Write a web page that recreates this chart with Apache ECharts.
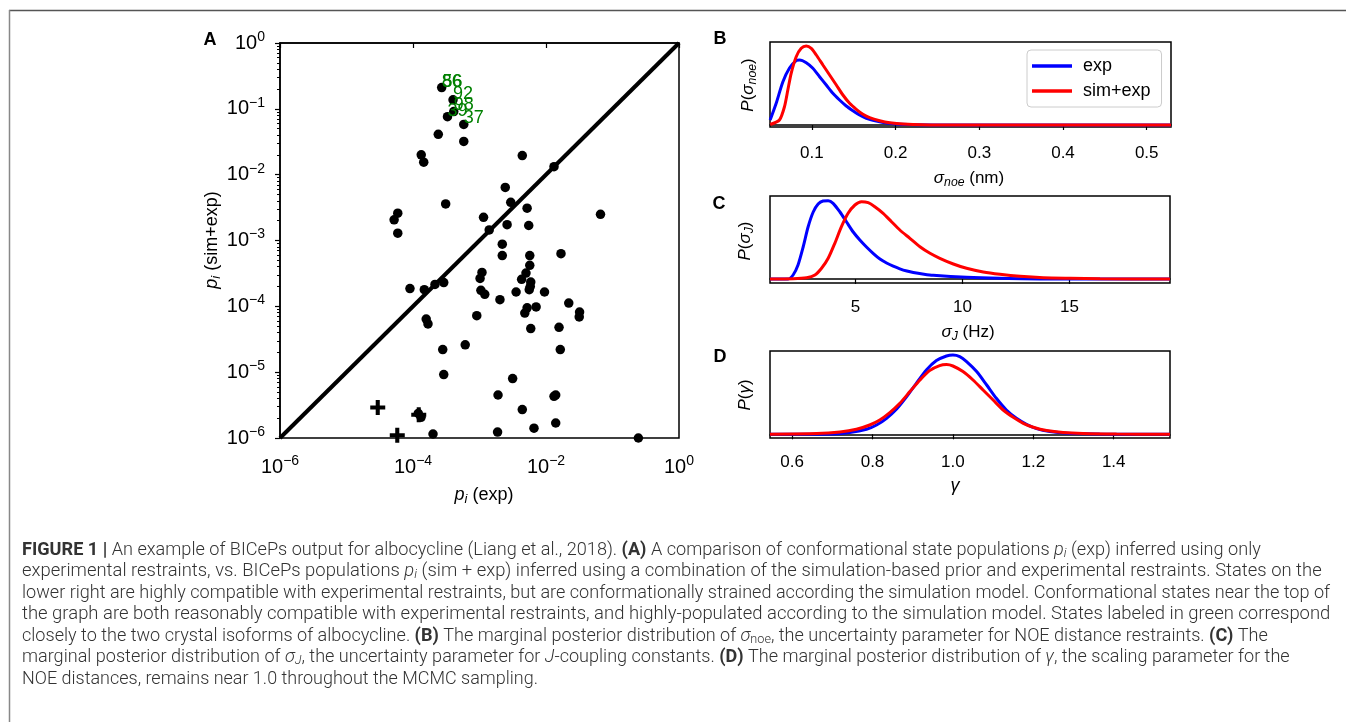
<!DOCTYPE html>
<html><head><meta charset="utf-8">
<script src="https://cdn.jsdelivr.net/npm/echarts@6/dist/echarts.min.js"></script>
<style>html,body{margin:0;padding:0;background:#fff;}#c{width:1346px;height:722px;}</style>
</head><body><div id="c"></div>
<script>
// ---------- Panel A data: [p_i(exp), p_i(sim+exp)] ----------
const dotPoints = [
 [2.7e-4,0.21],[4.0e-4,0.137],[4.1e-4,0.091],[3.3e-4,0.076],[5.8e-4,0.058],[2.4e-4,0.041],[5.8e-4,0.032],
 [1.33e-4,0.020],[1.45e-4,0.0155],[4.4e-3,0.0195],[0.0132,0.0132],[2.44e-3,6.4e-3],[2.95e-3,3.8e-3],
 [5.2e-3,3.1e-3],[3.1e-4,3.6e-3],[0.066,2.5e-3],[5.9e-5,2.6e-3],[1.15e-3,2.25e-3],[5.2e-5,2.06e-3],
 [5.9e-5,1.29e-3],[2.6e-3,1.74e-3],[5.5e-3,1.69e-3],[1.4e-3,1.45e-3],[2.2e-3,8.8e-4],[2.2e-3,5.9e-4],
 [0.0168,6.3e-4],[5.7e-3,5.9e-4],[5.7e-3,4.2e-4],[1.09e-3,3.27e-4],[1.02e-3,2.65e-4],[5.0e-3,3.2e-4],
 [4.3e-3,2.57e-4],[5.9e-3,2.34e-4],[5.8e-3,2.0e-4],[5.6e-3,1.79e-4],[9.0e-5,1.86e-4],[1.48e-4,1.79e-4],
 [2.14e-4,2.15e-4],[2.9e-4,2.3e-4],[1.05e-3,1.75e-4],[1.2e-3,1.52e-4],[2.03e-3,1.26e-4],[3.55e-3,1.65e-4],
 [9.5e-3,1.65e-4],[0.022,1.12e-4],[5.2e-3,9.5e-5],[7.1e-3,9.8e-5],[4.8e-3,7.9e-5],[0.032,8.2e-5],
 [0.0316,6.9e-5],[9.1e-4,7.2e-5],[1.58e-4,6.4e-5],[1.68e-4,5.4e-5],[5.9e-3,4.6e-5],[0.0157,4.8e-5],
 [0.0164,2.2e-5],[6.1e-4,2.6e-5],[2.8e-4,2.2e-5],[2.9e-4,9.2e-6],[3.15e-3,8.0e-6],[1.9e-3,4.5e-6],
 [0.0140,4.5e-6],[0.0132,4.3e-6],[4.4e-3,2.7e-6],[0.014,1.69e-6],[6.6e-3,1.41e-6],[1.87e-3,1.23e-6],
 [2.0e-4,1.15e-6],[1.2e-4,2.36e-6],[1.32e-4,2.06e-6],[0.245,1.0e-6]
];
const crossPoints = [[2.95e-5,2.9e-6],[5.8e-5,1.1e-6],[1.22e-4,2.25e-6]];
const labelPoints = [[2.7e-4,0.21],[2.78e-4,0.21],[4.0e-4,0.137],[4.1e-4,0.091],[3.3e-4,0.076],[5.8e-4,0.058]];
const labelNames = ['86','56','92','98','39','37'];
const diagonal = [[1e-6,1e-6],[1,1]];

// ---------- Panel B: P(sigma_noe) ----------
const bExp = [[0.0502,5],[0.0574,21.7],[0.0653,43],[0.0733,57],[0.0813,64.3],[0.0853,65],[0.0933,62.3],
 [0.1012,56.7],[0.1092,48.3],[0.1172,40],[0.1251,31.7],[0.1331,25],[0.1411,19],[0.149,14.3],[0.157,10],
 [0.165,6.7],[0.177,4],[0.189,2],[0.205,0.7],[0.245,0],[0.529,0]];
const bSim = [[0.0502,0.5],[0.0613,5],[0.0673,18.3],[0.0713,35],[0.0753,51.7],[0.0813,68.3],[0.0873,76.7],
 [0.0933,79],[0.0993,76.7],[0.1053,70],[0.1132,60],[0.1212,50],[0.1292,40],[0.1371,30],[0.1451,21.7],
 [0.1531,15.7],[0.161,10.7],[0.169,7.3],[0.181,4.3],[0.193,2.3],[0.209,1],[0.25,0],[0.529,0]];
const bTicks = [0.1,0.2,0.3,0.4,0.5];

// ---------- Panel C: P(sigma_J) ----------
const cExp = [[1.0,0],[1.846,0],[2.08,4],[2.31,14],[2.55,32],[2.78,52],[3.02,67],[3.25,75],[3.48,78],
 [3.72,78.3],[3.95,75.7],[4.27,67],[4.58,57],[4.89,47],[5.20,39],[5.51,32],[5.82,25.7],[6.14,20],
 [6.45,16],[6.76,12.8],[7.07,10.2],[7.4,8],[7.70,6.5],[8.2,4.8],[8.63,3.7],[10.19,1.7],[11.75,0.7],[14,0],[19.7,0]];
const cSim = [[1.0,0],[2.08,0.3],[2.71,1.3],[3.10,4],[3.41,10.7],[3.72,20.7],[4.03,35.7],[4.34,52.3],
 [4.65,65.7],[4.97,74],[5.28,77.3],[5.59,76.3],[5.90,72.3],[6.29,65.7],[6.68,57.3],[7.07,49],[7.54,40.7],
 [8.01,32.3],[8.48,25.7],[8.94,20.7],[9.57,15],[10.19,10.7],[10.97,7],[11.75,4.7],[12.69,2.7],[13.78,1.3],
 [15.03,0.7],[16.43,0.2],[19.7,0]];
const cTicks = [5,10,15];

// ---------- Panel D: P(gamma) ----------
const dExp = [[0.545,0],[0.702,0.3],[0.7435,1.7],[0.785,5],[0.810,9.3],[0.835,16],[0.860,25.3],[0.885,37.7],
 [0.909,51],[0.934,64.3],[0.959,73.7],[0.984,78.3],[1.0,79.3],[1.017,77.7],[1.034,72.7],[1.059,62.7],
 [1.084,49.3],[1.108,36],[1.133,24.3],[1.158,16],[1.183,10],[1.208,5.7],[1.241,2.7],[1.283,1],[1.365,0.3],[1.45,0],[1.54,0]];
const dSim = [[0.545,0],[0.661,0.7],[0.719,2.3],[0.760,5],[0.793,9.3],[0.818,14.3],[0.843,21.7],[0.868,31],
 [0.893,42.7],[0.918,54.3],[0.942,63.7],[0.967,68.7],[0.984,69.7],[1.0,68.3],[1.025,62.7],[1.050,54.3],
 [1.075,44.3],[1.100,34.3],[1.125,24.3],[1.150,17],[1.175,11],[1.2,7],[1.233,3.7],[1.274,1.7],[1.324,0.7],[1.407,0.2],[1.54,0]];
const dTicks = [0.6,0.8,1.0,1.2,1.4];

const captionLines = [
 '{b|FIGURE 1 |} An example of BICePs output for albocycline {g|(Liang et al., 2018)}. {b|(A)} A comparison of conformational state populations {i|p}{si|i} (exp) inferred using only',
 'experimental restraints, vs. BICePs populations {i|p}{si|i} (sim + exp) inferred using a combination of the simulation-based prior and experimental restraints. States on the',
 'lower right are highly compatible with experimental restraints, but are conformationally strained according the simulation model. Conformational states near the top of',
 'the graph are both reasonably compatible with experimental restraints, and highly-populated according to the simulation model. States labeled in green correspond',
 'closely to the two crystal isoforms of albocycline. {b|(B)} The marginal posterior distribution of {i|σ}{s|noe}, the uncertainty parameter for NOE distance restraints. {b|(C)} The',
 'marginal posterior distribution of {i|σ}{si|J}, the uncertainty parameter for {i|J}-coupling constants. {b|(D)} The marginal posterior distribution of {i|γ}, the scaling parameter for the',
 'NOE distances, remains near 1.0 throughout the MCMC sampling.'
];
const captionStretch = [1.003, 1.02, 1, 1.022, 1, 1, 0.995];

// ---------- build ----------
const FF = '"Liberation Sans", Arial, Helvetica, sans-serif';
const CF = 'Roboto, "Liberation Sans", sans-serif';
const CW = 300;
const ctx = document.createElement('canvas').getContext('2d');
ctx.font = CW + ' 16px ' + CF;
const capSize = 16 * 1309 / ctx.measureText(captionLines[2]).width;

const minorExps = [];
for (let n = -6; n < 0; n++) for (let k = 2; k <= 9; k++) minorExps.push(n + Math.log10(k));

function pow10Label(v) {
  const e = Math.round(Math.log10(v));
  return '10{sup|' + (e < 0 ? '\u2212' + (-e) : e) + '}';
}
const supRich = { sup: { fontSize: 14, fontFamily: FF, color: '#000', padding: [0, 0, 12, 0] } };

const chart = echarts.init(document.getElementById('c'));
const blue = '#0000ff', red = '#ff0000';
function lineSeries(name, data, xi, yi, color) {
  return { type: 'line', name, data, xAxisIndex: xi, yAxisIndex: yi, showSymbol: false, symbol: 'none',
    smooth: 0.25, lineStyle: { color, width: 3 }, itemStyle: { color }, z: color === red ? 4 : 3, animation: false };
}
function gridCfg(left, top, width, height) {
  return { left, top, width, height, show: true, borderColor: '#000', borderWidth: 1.5,
    backgroundColor: 'transparent', containLabel: false, outerBoundsMode: 'none' };
}
function smallX(gi, min, max, ticks, fmt, margin) {
  return { type: 'value', gridIndex: gi, min, max,
    axisLine: { show: true, lineStyle: { color: '#000', width: 1.5 } },
    axisTick: { show: true, customValues: ticks, length: 5, lineStyle: { color: '#000', width: 1.2 } },
    axisLabel: { customValues: ticks, formatter: fmt, fontSize: 17, fontFamily: FF, color: '#000', margin },
    splitLine: { show: false } };
}
function hiddenY(gi, min, max) {
  return { type: 'value', gridIndex: gi, min, max, show: false, splitLine: { show: false } };
}
function txt(x, y, text, opts) {
  return { type: 'text', x, y, silent: true, style: Object.assign({ text, fill: '#000',
    font: '18px ' + FF, align: 'center', verticalAlign: 'middle' }, opts || {}) };
}
const mathRich = (fs) => ({
  i: { fontStyle: 'italic', fontSize: fs, fontFamily: FF, color: '#000' },
  n: { fontSize: fs, fontFamily: FF, color: '#000' },
  si: { fontStyle: 'italic', fontSize: fs * 0.72, fontFamily: FF, color: '#000', padding: [9, 0, 0, 0] },
  s: { fontStyle: 'italic', fontSize: fs * 0.72, fontFamily: FF, color: '#000', padding: [9, 0, 0, 0] }
});

const capRich = {
  b: { fontWeight: 'bold', fontSize: capSize, fontFamily: CF, color: '#222' },
  g: { fontWeight: CW, fontSize: capSize, fontFamily: CF, color: '#666' },
  i: { fontWeight: CW, fontStyle: 'italic', fontSize: capSize, fontFamily: CF, color: '#333' },
  si: { fontWeight: CW, fontStyle: 'italic', fontSize: capSize * 0.7, fontFamily: CF, color: '#333', padding: [7, 0, 0, 0] },
  s: { fontWeight: CW, fontSize: capSize * 0.7, fontFamily: CF, color: '#333', padding: [7, 0, 0, 0] }
};

const graphics = [
  { type: 'line', silent: true, shape: { x1: 9, y1: 10.5, x2: 1346, y2: 10.5 }, style: { stroke: '#555', lineWidth: 1.5 } },
  { type: 'line', silent: true, shape: { x1: 9.5, y1: 10, x2: 9.5, y2: 722 }, style: { stroke: '#888', lineWidth: 1.5 } },
  txt(210, 40, 'A', { font: 'bold 18px ' + FF }),
  txt(720, 39, 'B', { font: 'bold 18px ' + FF }),
  txt(719, 204, 'C', { font: 'bold 18px ' + FF }),
  txt(720, 357, 'D', { font: 'bold 18px ' + FF }),
  txt(484, 495, '{i|p}{si|i}{n| (exp)}', { rich: mathRich(18) }),
  Object.assign(txt(0, 0, '{i|p}{si|i}{n| (sim+exp)}', { rich: mathRich(18) }), { x: 212, y: 240, rotation: Math.PI / 2 }),
  Object.assign(txt(0, 0, '{i|P}{n|(}{i|σ}{s|noe}{n|)}', { rich: mathRich(17) }), { x: 748, y: 85, rotation: Math.PI / 2 }),
  Object.assign(txt(0, 0, '{i|P}{n|(}{i|σ}{si|J}{n|)}', { rich: mathRich(17) }), { x: 745, y: 241, rotation: Math.PI / 2 }),
  Object.assign(txt(0, 0, '{i|P}{n|(}{i|γ}{n|)}', { rich: mathRich(17) }), { x: 745, y: 395, rotation: Math.PI / 2 }),
  txt(969, 178, '{i|σ}{s|noe}{n| (nm)}', { rich: mathRich(17) }),
  txt(968, 332, '{i|σ}{si|J}{n| (Hz)}', { rich: mathRich(17) }),
  txt(955, 486, '{i|γ}', { rich: mathRich(18) })
];
captionLines.forEach((t, k) => {
  graphics.push({ type: 'text', x: 22, y: 550 + k * 21.5, scaleX: captionStretch[k], silent: true,
    style: { text: t, rich: capRich, fontSize: capSize, fontFamily: CF, fontWeight: CW, fill: '#333', align: 'left', verticalAlign: 'middle' } });
});

const plusPath = 'path://M-1.9,-7L1.9,-7L1.9,-1.9L7,-1.9L7,1.9L1.9,1.9L1.9,7L-1.9,7L-1.9,1.9L-7,1.9L-7,-1.9L-1.9,-1.9Z';

chart.setOption({
  animation: false,
  backgroundColor: '#fff',
  grid: [gridCfg(280, 43, 399, 395), gridCfg(770, 42, 401, 85), gridCfg(770, 196, 400, 87), gridCfg(770, 351, 400, 87)],
  xAxis: [
    { type: 'log', logBase: 10, gridIndex: 0, min: 1e-6, max: 1, interval: 2,
      axisLine: { show: true, lineStyle: { color: '#000', width: 1.5 } },
      axisTick: { show: true, length: 5, lineStyle: { color: '#000', width: 1.2 } },
      axisLabel: { formatter: pow10Label, rich: supRich, fontSize: 20, fontFamily: FF, color: '#000', margin: 16 },
      splitLine: { show: false }, minorTick: { show: false } },
    smallX(1, 0.05, 0.529, bTicks, v => v.toFixed(1), 18),
    smallX(2, 1.0, 19.7, cTicks, v => String(v), 16),
    smallX(3, 0.545, 1.54, dTicks, v => v.toFixed(1), 16)
  ],
  yAxis: [
    { type: 'log', logBase: 10, gridIndex: 0, min: 1e-6, max: 1, interval: 1, position: 'left',
      axisLine: { show: true, lineStyle: { color: '#000', width: 1.5 } },
      axisTick: { show: true, length: 5, lineStyle: { color: '#000', width: 1.2 } },
      axisLabel: { formatter: pow10Label, rich: supRich, fontSize: 20, fontFamily: FF, color: '#000', margin: 15 },
      splitLine: { show: false } },
    { type: 'value', gridIndex: 0, min: -6, max: 0, position: 'left',
      axisLine: { show: false }, axisLabel: { show: false }, splitLine: { show: false },
      axisTick: { show: true, customValues: minorExps, length: 3, lineStyle: { color: '#000', width: 1 } } },
    hiddenY(1, -2, 83), hiddenY(2, -4, 83), hiddenY(3, -3.7, 83.3)
  ],
  legend: { show: true, left: 1027, top: 50, orient: 'vertical', data: ['exp', 'sim+exp'],
    icon: 'rect', itemWidth: 40, itemHeight: 3.5, itemGap: 7,
    backgroundColor: '#fff', borderColor: '#cccccc', borderWidth: 1, borderRadius: 4, padding: [7, 11, 7, 5],
    textStyle: { fontSize: 18, fontFamily: FF, color: '#000', padding: [0, 0, 0, 6] }, selectedMode: false, z: 10 },
  series: [
    { type: 'line', data: diagonal, xAxisIndex: 0, yAxisIndex: 0, symbol: 'none', lineStyle: { color: '#000', width: 4 }, z: 2 },
    { type: 'scatter', data: dotPoints, xAxisIndex: 0, yAxisIndex: 0, symbol: 'circle', symbolSize: 9.5,
      itemStyle: { color: '#000', opacity: 1 }, z: 3, clip: false },
    { type: 'scatter', data: crossPoints, xAxisIndex: 0, yAxisIndex: 0, symbol: plusPath, symbolSize: 15,
      itemStyle: { color: '#000', opacity: 1 }, z: 3 },
    { type: 'scatter', data: labelPoints.map((p, k) => ({ value: p, name: labelNames[k] })), xAxisIndex: 0, yAxisIndex: 0,
      symbolSize: 0.1, z: 5, itemStyle: { opacity: 1 },
      label: { show: true, formatter: '{b}', position: [0, 3], align: 'left', verticalAlign: 'bottom',
        color: '#008000', fontSize: 18, fontFamily: FF } },
    lineSeries('exp', bExp, 1, 2, blue), lineSeries('sim+exp', bSim, 1, 2, red),
    lineSeries('exp', cExp, 2, 3, blue), lineSeries('sim+exp', cSim, 2, 3, red),
    lineSeries('exp', dExp, 3, 4, blue), lineSeries('sim+exp', dSim, 3, 4, red)
  ],
  graphic: graphics
});
</script></body></html>
